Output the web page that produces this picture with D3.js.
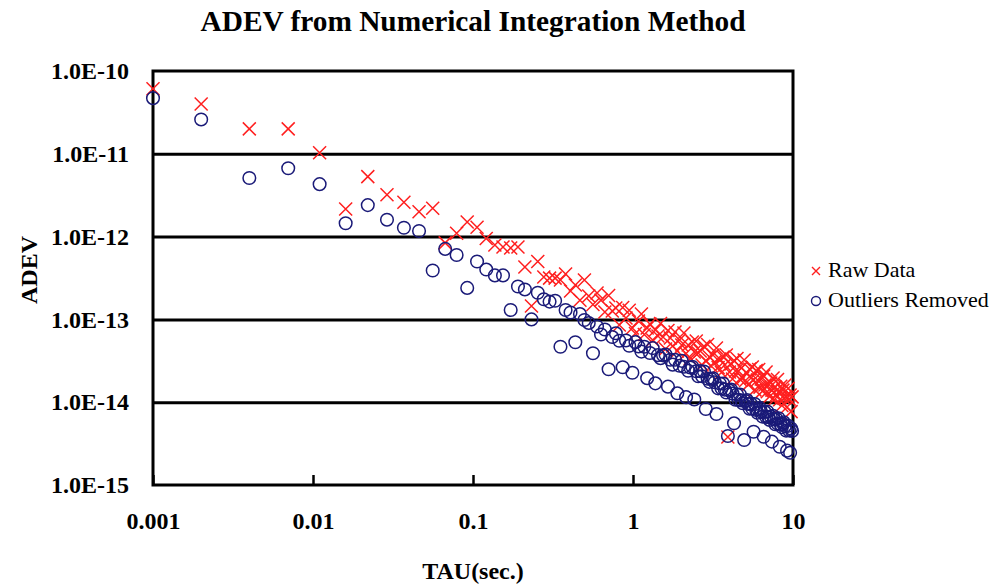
<!DOCTYPE html>
<html>
<head>
<meta charset="utf-8">
<script src="https://cdn.jsdelivr.net/npm/d3@7"></script>
<style>
  html, body { margin: 0; padding: 0; background: #ffffff; }
  svg { display: block; }
</style>
</head>
<body>
<svg id="chart" width="1003" height="585"></svg>
<script>
// ---- data ----
const titleText = "ADEV from Numerical Integration Method";
const xLabel = "TAU(sec.)";
const yLabel = "ADEV";
const seriesNames = ["Raw Data", "Outliers Removed"];
const xTicks = [0.001, 0.01, 0.1, 1, 10];
const xTickLabels = ["0.001", "0.01", "0.1", "1", "10"];
const yTicks = [1e-15, 1e-14, 1e-13, 1e-12, 1e-11, 1e-10];
const yTickLabels = ["1.0E-15", "1.0E-14", "1.0E-13", "1.0E-12", "1.0E-11", "1.0E-10"];

const tau = [0.001,0.002,0.004,0.007,0.011,0.016,0.022,0.029,0.037,0.046,0.056,0.067,0.079,0.092,0.106,0.121,0.137,0.154,0.172,0.191,
0.211,0.232,0.254,0.277,0.301,0.326,0.352,0.379,0.407,0.436,0.466,0.497,0.529,0.562,0.596,0.631,0.667,0.704,0.742,0.781,
0.821,0.862,0.904,0.947,0.991,1.036,1.082,1.129,1.177,1.226,1.276,1.327,1.379,1.432,1.486,1.541,1.597,1.654,1.712,1.771,
1.831,1.892,1.954,2.017,2.081,2.146,2.212,2.279,2.347,2.416,2.486,2.557,2.629,2.702,2.776,2.851,2.927,3.004,3.082,3.161,
3.241,3.322,3.404,3.487,3.571,3.656,3.742,3.829,3.917,4.006,4.096,4.187,4.279,4.372,4.466,4.561,4.657,4.754,4.852,4.951,
5.051,5.152,5.254,5.357,5.461,5.566,5.672,5.779,5.887,5.996,6.106,6.217,6.329,6.442,6.556,6.671,6.787,6.904,7.022,7.141,
7.261,7.382,7.504,7.627,7.751,7.876,8.002,8.129,8.257,8.386,8.516,8.647,8.779,8.912,9.046,9.181,9.317,9.454,9.592,9.731,9.871];

const rawData = [6.1e-11,4.0e-11,2.0e-11,2.0e-11,1.03e-11,2.15e-12,5.3e-12,3.2e-12,2.6e-12,2.0e-12,
2.2e-12,8.4e-13,1.1e-12,1.5e-12,1.3e-12,9.5e-13,7.9e-13,7.5e-13,7.3e-13,7.5e-13,
4.3e-13,1.45e-13,5.0e-13,3.25e-13,3.15e-13,3.15e-13,2.99e-13,3.53e-13,2.20e-13,2.60e-13,
1.70e-13,2.99e-13,1.92e-13,1.51e-13,2.08e-13,1.71e-13,1.23e-13,1.94e-13,1.26e-13,1.37e-13,
8.57e-14,1.39e-13,1.04e-13,1.29e-13,7.87e-14,6.76e-14,9.57e-14,1.16e-13,6.58e-14,7.87e-14,
8.79e-14,5.63e-14,7.45e-14,6.31e-14,8.92e-14,6.12e-14,4.39e-14,7.34e-14,5.96e-14,4.78e-14,
7.05e-14,4.16e-14,5.64e-14,4.91e-14,6.84e-14,3.87e-14,4.91e-14,3.37e-14,5.34e-14,4.04e-14,
5.49e-14,3.93e-14,4.15e-14,2.82e-14,4.72e-14,3.15e-14,4.98e-14,3.52e-14,2.73e-14,3.72e-14,
3.06e-14,4.51e-14,2.62e-14,3.33e-14,2.29e-14,3.52e-14,2.81e-14,3.72e-14,3.80e-15,2.32e-14,
2.89e-14,1.91e-14,3.18e-14,2.38e-14,3.37e-14,2.38e-14,1.90e-14,2.59e-14,1.96e-14,3.23e-14,
1.83e-14,2.25e-14,1.63e-14,2.52e-14,1.96e-14,2.66e-14,1.85e-14,1.41e-14,2.41e-14,1.85e-14,
2.48e-14,1.52e-14,1.91e-14,1.36e-14,2.07e-14,1.61e-14,2.31e-14,1.34e-14,1.66e-14,1.17e-14,
1.71e-14,1.40e-14,1.96e-14,1.07e-14,1.53e-14,1.22e-14,1.88e-14,1.33e-14,1.07e-14,1.56e-14,
9.1e-15,1.40e-14,1.12e-14,1.61e-14,1.16e-14,8.74e-15,1.46e-14,1.09e-14,1.22e-14,7.7e-15,1.16e-14];

const outliersRemoved = [4.7e-11,2.6e-11,5.1e-12,6.7e-12,4.3e-12,1.45e-12,2.4e-12,1.6e-12,1.28e-12,1.17e-12,
3.9e-13,7.1e-13,6.0e-13,2.4e-13,5.0e-13,4.0e-13,3.4e-13,3.4e-13,1.3e-13,2.5e-13,
2.3e-13,1.0e-13,2.1e-13,1.75e-13,1.64e-13,1.68e-13,4.68e-14,1.30e-13,1.21e-13,5.29e-14,
1.16e-13,9.84e-14,9.06e-14,3.90e-14,8.20e-14,6.58e-14,7.55e-14,2.50e-14,6.12e-14,6.79e-14,
5.53e-14,2.64e-14,5.57e-14,4.81e-14,2.27e-14,5.31e-14,4.72e-14,4.08e-14,4.68e-14,1.95e-14,
3.93e-14,4.50e-14,1.69e-14,3.70e-14,3.40e-14,3.68e-14,3.77e-14,1.54e-14,3.26e-14,2.84e-14,
3.26e-14,1.28e-14,2.75e-14,3.16e-14,2.68e-14,1.15e-14,2.40e-14,2.62e-14,2.68e-14,1.08e-14,
2.36e-14,2.06e-14,2.37e-14,2.06e-14,2.35e-14,8.28e-15,1.92e-14,1.76e-14,1.91e-14,1.95e-14,
1.74e-14,7.20e-15,1.47e-14,1.68e-14,1.47e-14,1.68e-14,1.42e-14,1.31e-14,3.91e-15,1.38e-14,
1.42e-14,1.27e-14,5.56e-15,1.07e-14,1.24e-14,1.07e-14,1.24e-14,1.05e-14,9.70e-15,3.49e-15,
1.03e-14,1.06e-14,9.53e-15,8.32e-15,9.55e-15,8.39e-15,4.40e-15,9.48e-15,8.07e-15,7.46e-15,
8.18e-15,8.47e-15,7.64e-15,6.70e-15,3.83e-15,7.60e-15,6.67e-15,7.73e-15,6.59e-15,6.11e-15,
6.70e-15,3.34e-15,6.84e-15,6.17e-15,5.42e-15,6.28e-15,5.53e-15,6.41e-15,2.90e-15,5.38e-15,
5.00e-15,5.48e-15,5.70e-15,5.16e-15,4.54e-15,2.60e-15,5.18e-15,4.56e-15,2.45e-15,4.81e-15,4.48e-15];

// ---- layout ----
const W = 1003, H = 585;
const plot = { left: 153, right: 793, top: 71, bottom: 485 };
const serif = "'Liberation Serif', 'Times New Roman', serif";
const red = "#ff1f1f", navy = "#1a1a78";

const svg = d3.select("#chart");
svg.append("rect").attr("width", W).attr("height", H).attr("fill", "#fff");

const x = d3.scaleLog().domain([0.001, 10]).range([plot.left, plot.right]);
const y = d3.scaleLog().domain([1e-15, 1e-10]).range([plot.bottom, plot.top]);

// gridlines
const grid = svg.append("g")
  .attr("transform", `translate(${plot.left},0)`)
  .call(d3.axisLeft(y).tickValues(yTicks.slice(1, -1))
    .tickSize(-(plot.right - plot.left)).tickFormat(""));
grid.select(".domain").remove();
grid.selectAll(".tick line").attr("stroke", "#000").attr("stroke-width", 3);

// frame
svg.append("rect")
  .attr("x", plot.left).attr("y", plot.top)
  .attr("width", plot.right - plot.left).attr("height", plot.bottom - plot.top)
  .attr("fill", "none").attr("stroke", "#000").attr("stroke-width", 3);

// x axis (ticks pointing up inside)
const xAxis = svg.append("g")
  .attr("transform", `translate(0,${plot.bottom})`)
  .call(d3.axisBottom(x).tickValues(xTicks)
    .tickFormat((d, i) => xTickLabels[i]).tickSize(-10).tickPadding(27));
xAxis.select(".domain").remove();
xAxis.selectAll(".tick line").attr("stroke", "#000").attr("stroke-width", 2.5);
xAxis.selectAll(".tick text")
  .attr("font-family", serif).attr("font-size", 24).attr("font-weight", "bold").attr("fill", "#000");

// y axis labels
const yAxis = svg.append("g")
  .attr("transform", `translate(${plot.left},0)`)
  .call(d3.axisLeft(y).tickValues(yTicks)
    .tickFormat((d, i) => yTickLabels[i]).tickSize(0).tickPadding(24));
yAxis.select(".domain").remove();
yAxis.selectAll(".tick text")
  .attr("font-family", serif).attr("font-size", 24).attr("font-weight", "bold").attr("fill", "#000");

// series
const pts = tau.map((t, i) => ({ t, raw: rawData[i], cln: outliersRemoved[i] }));
const crossPath = s => `M${-s},${-s}L${s},${s}M${-s},${s}L${s},${-s}`;

svg.append("g").selectAll("path").data(pts).join("path")
  .attr("transform", d => `translate(${x(d.t)},${y(d.raw)})`)
  .attr("d", crossPath(6.5))
  .attr("fill", "none").attr("stroke", red).attr("stroke-width", 1.5);

svg.append("g").selectAll("circle").data(pts).join("circle")
  .attr("cx", d => x(d.t)).attr("cy", d => y(d.cln)).attr("r", 6.3)
  .attr("fill", "none").attr("stroke", navy).attr("stroke-width", 1.5);

// title
svg.append("text").attr("x", 473).attr("y", 31).attr("text-anchor", "middle")
  .attr("font-family", serif).attr("font-size", 29).attr("font-weight", "bold")
  .attr("textLength", 545).attr("lengthAdjust", "spacingAndGlyphs")
  .text(titleText);

// axis titles
svg.append("text").attr("x", 473).attr("y", 579).attr("text-anchor", "middle")
  .attr("font-family", serif).attr("font-size", 24).attr("font-weight", "bold")
  .text(xLabel);
svg.append("text").attr("transform", "translate(37,270) rotate(-90)").attr("text-anchor", "middle")
  .attr("font-family", serif).attr("font-size", 24).attr("font-weight", "bold")
  .text(yLabel);

// legend
const leg = svg.append("g");
leg.append("path").attr("transform", "translate(816,271)").attr("d", crossPath(4))
  .attr("fill", "none").attr("stroke", red).attr("stroke-width", 1.4);
leg.append("circle").attr("cx", 816).attr("cy", 301).attr("r", 4.5)
  .attr("fill", "none").attr("stroke", navy).attr("stroke-width", 1.4);
leg.append("text").attr("x", 828).attr("y", 277).attr("font-family", serif).attr("font-size", 22)
  .text(seriesNames[0]);
leg.append("text").attr("x", 828).attr("y", 307).attr("font-family", serif).attr("font-size", 22)
  .text(seriesNames[1]);
</script>
</body>
</html>
